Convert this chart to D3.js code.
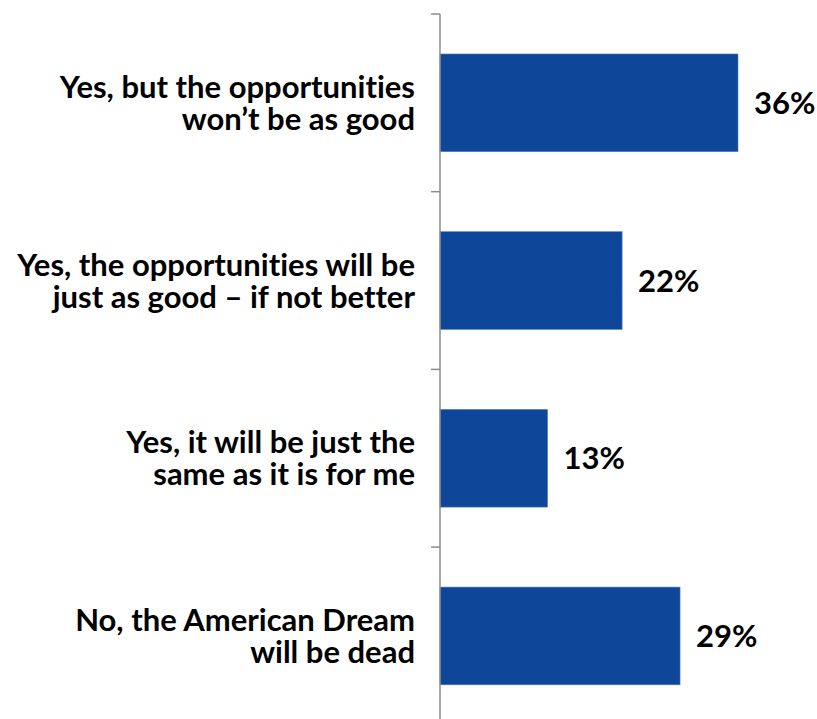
<!DOCTYPE html>
<html>
<head>
<meta charset="utf-8">
<script src="https://cdn.jsdelivr.net/npm/d3@7"></script>
<style>
  html, body { margin: 0; padding: 0; background: #fff; }
  svg { display: block; }
  text { font-family: Lato, "Open Sans", sans-serif; font-weight: 700; fill: #000;
         font-variant-ligatures: none; font-feature-settings: "liga" 0; }
</style>
</head>
<body>
<svg id="chart" width="817" height="719"></svg>
<script>
// Survey answers, top to bottom
const categories = [
  ["Yes, but the opportunities", "won\u2019t be as good"],
  ["Yes, the opportunities will be", "just as good \u2013 if not better"],
  ["Yes, it will be just the", "same as it is for me"],
  ["No, the American Dream", "will be dead"]
];
const values = [36, 22, 13, 29];
const valueLabels = ["36%", "22%", "13%", "29%"];

const svg = d3.select("#chart");
const axisX = 440;

const keys = categories.map((_, i) => i);
const y = d3.scaleBand()
  .domain(keys)
  .range([14, 724.8])
  .paddingInner(0.45)
  .paddingOuter(0.225);

const x = d3.scaleLinear().domain([0, 36]).range([axisX, 738]);

// Bars
svg.append("g").selectAll("rect")
  .data(values)
  .join("rect")
  .attr("x", x(0))
  .attr("y", (d, i) => y(i))
  .attr("width", d => x(d) - x(0))
  .attr("height", y.bandwidth())
  .attr("fill", "#0E469A")
  .attr("stroke", "#5b7fc0")
  .attr("stroke-width", 0.6);

// Category axis: vertical line with ticks at band boundaries
const axis = svg.append("g").attr("stroke", "#8c8c8c").attr("stroke-width", 1.5);
axis.append("line")
  .attr("x1", axisX).attr("x2", axisX)
  .attr("y1", y.range()[0]).attr("y2", y.range()[1]);
axis.selectAll("line.tick")
  .data(d3.range(categories.length + 1))
  .join("line")
  .attr("class", "tick")
  .attr("x1", axisX - 9).attr("x2", axisX)
  .attr("y1", i => y.range()[0] + i * y.step())
  .attr("y2", i => y.range()[0] + i * y.step());

// Category labels (two lines, right aligned)
const labels = svg.append("g").selectAll("text")
  .data(categories)
  .join("text")
  .attr("text-anchor", "end")
  .attr("font-size", 31);
labels.selectAll("tspan")
  .data((d, i) => d.map((line, j) => ({ line, j, i })))
  .join("tspan")
  .attr("x", 415)
  .attr("y", d => y(d.i) + y.bandwidth() / 2 - 5 + d.j * 32)
  .text(d => d.line);

// Value labels
svg.append("g").selectAll("text")
  .data(values)
  .join("text")
  .attr("x", d => x(d) + 16)
  .attr("y", (d, i) => y(i) + y.bandwidth() / 2 + 11)
  .attr("font-size", 31)
  .text((d, i) => valueLabels[i]);
</script>
</body>
</html>
